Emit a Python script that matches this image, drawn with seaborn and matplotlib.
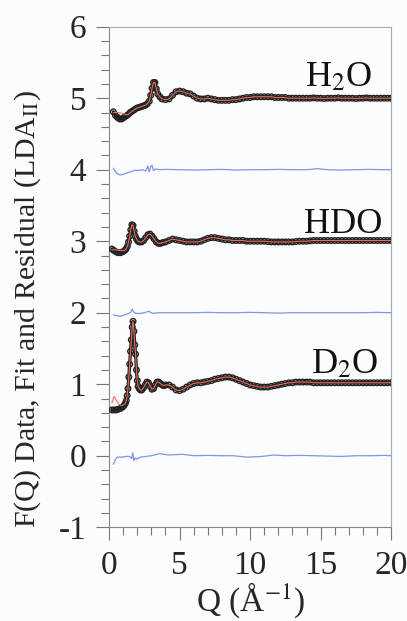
import numpy as np
import pandas as pd
import matplotlib
matplotlib.use("Agg")
import matplotlib.pyplot as plt
import seaborn as sns
from matplotlib.ticker import MultipleLocator

# ---- data ----
# common high-Q sampling shared by the three data sets
q_tail = [4.0, 4.25, 4.5, 4.75, 5.0, 5.25, 5.5, 5.75, 6.0, 6.25,
          6.5, 6.75, 7.0, 7.25, 7.5, 7.75, 8.0, 8.25, 8.5, 8.75,
          9.0, 9.25, 9.5, 9.75, 10.0, 10.25, 10.5, 10.75, 11.0, 11.25,
          11.5, 11.75, 12.0, 12.25, 12.5, 12.75, 13.0, 13.25, 13.5, 13.75,
          14.0, 14.25, 14.5, 14.75, 15.0, 15.25, 15.5, 15.75, 16.0, 16.25,
          16.5, 16.75, 17.0, 17.25, 17.5, 17.75, 18.0, 18.25, 18.5, 18.75,
          19.0, 19.25, 19.5, 19.75, 20.0]

# H2O
q_h2o_head = [0.3, 0.45, 0.6, 0.75, 0.9, 1.05, 1.2, 1.35, 1.5, 1.65,
              1.8, 1.95, 2.1, 2.25, 2.4, 2.55, 2.7, 2.85, 2.95, 3.05,
              3.15, 3.25, 3.35, 3.45, 3.6, 3.75]
f_h2o_head = [4.81, 4.76, 4.73, 4.71, 4.71, 4.73, 4.75, 4.77, 4.80, 4.82,
              4.84, 4.86, 4.87, 4.88, 4.89, 4.90, 4.92, 4.96, 5.04, 5.14,
              5.22, 5.22, 5.13, 5.06, 5.02, 4.99]
f_h2o_tail = [4.98, 4.99, 5.04, 5.09, 5.10, 5.09, 5.07, 5.06, 5.03, 5.00,
              4.99, 4.99, 5.00, 4.99, 4.98, 4.97, 4.97, 4.97, 4.97, 4.98,
              4.98, 4.99, 5.00, 5.01, 5.01, 5.02, 5.02, 5.02, 5.02, 5.02,
              5.02, 5.01, 5.01, 5.01, 5.01, 5.00, 5.00, 5.00, 5.00, 5.00,
              5.00, 5.00, 5.005, 5.00, 5.00, 4.995, 5.00, 5.00, 5.00, 5.005,
              5.00, 5.00, 5.00, 5.00, 4.995, 5.00, 5.00, 5.005, 5.00, 5.00,
              5.00, 5.00, 5.00, 5.00, 5.00]
fit_q_h2o_low = [0.3, 0.6, 0.9, 1.2]
fit_h2o_low = [4.80, 4.80, 4.79, 4.77]
res_q_h2o = [0.3, 0.5, 0.7, 0.9, 1.2, 1.5, 1.8, 2.1, 2.4, 2.6,
             2.75, 2.85, 2.95, 3.05, 3.15, 3.3, 3.6, 4.0, 5.0, 6.0,
             7.0, 8.0, 9.0, 10.0, 11.0, 12.0, 13.0, 14.0, 14.8, 15.5,
             16.5, 17.5, 18.5, 19.5, 20.0]
res_h2o = [4.02, 3.96, 3.93, 3.93, 3.95, 3.97, 3.99, 3.99, 4.00, 3.98,
           4.05, 3.97, 4.04, 4.06, 3.99, 4.01, 4.00, 4.005, 4.00, 3.995,
           4.00, 4.005, 3.995, 4.00, 4.00, 4.005, 4.00, 4.00, 4.015, 4.00,
           3.995, 4.00, 4.005, 4.00, 4.00]

# HDO
q_hdo_head = [0.2, 0.35, 0.5, 0.65, 0.8, 0.95, 1.1, 1.2, 1.3, 1.38,
              1.46, 1.54, 1.62, 1.7, 1.78, 1.86, 1.95, 2.05, 2.15, 2.3,
              2.45, 2.6, 2.75, 2.9, 3.05, 3.2, 3.35, 3.5, 3.65, 3.8]
f_hdo_head = [2.89, 2.87, 2.85, 2.84, 2.84, 2.85, 2.87, 2.89, 2.93, 2.99,
              3.07, 3.16, 3.23, 3.22, 3.14, 3.07, 3.03, 3.00, 2.99, 2.99,
              3.01, 3.05, 3.09, 3.10, 3.07, 3.03, 2.99, 2.97, 2.97, 2.98]
f_hdo_tail = [2.99, 3.01, 3.03, 3.02, 3.01, 3.00, 2.99, 2.99, 2.99, 2.99,
              3.00, 3.02, 3.04, 3.05, 3.05, 3.04, 3.03, 3.02, 3.02, 3.01,
              3.01, 3.01, 3.01, 3.00, 3.00, 3.00, 3.00, 3.00, 3.00, 2.995,
              2.99, 2.99, 2.99, 2.99, 2.99, 2.99, 2.99, 2.995, 3.00, 3.00,
              3.00, 3.005, 3.01, 3.01, 3.01, 3.01, 3.01, 3.01, 3.01, 3.01,
              3.01, 3.01, 3.01, 3.01, 3.01, 3.01, 3.01, 3.01, 3.01, 3.01,
              3.01, 3.01, 3.01, 3.01, 3.01]
fit_q_hdo_low = [0.2, 0.5, 0.8, 1.1]
fit_hdo_low = [2.88, 2.88, 2.87, 2.87]
res_q_hdo = [0.3, 0.5, 0.8, 1.1, 1.4, 1.55, 1.65, 1.75, 1.9, 2.2,
             2.5, 2.8, 3.1, 3.5, 4.0, 5.0, 6.0, 7.0, 8.0, 9.0,
             10.0, 11.0, 12.0, 13.0, 14.0, 15.0, 16.0, 17.0, 18.0, 19.0, 20.0]
res_hdo = [1.97, 1.96, 1.95, 1.97, 1.99, 2.01, 2.05, 2.01, 1.99, 1.99,
           2.00, 2.02, 1.99, 2.00, 2.00, 2.00, 2.00, 2.005, 2.00, 2.00,
           2.005, 2.00, 1.995, 2.00, 2.00, 2.00, 2.00, 2.00, 2.00, 2.005, 2.00]

# D2O
q_d2o_head = [0.2, 0.35, 0.5, 0.65, 0.8, 0.95, 1.05, 1.15, 1.22, 1.28,
              1.34, 1.4, 1.46, 1.52, 1.58, 1.64, 1.7, 1.76, 1.82, 1.88,
              1.94, 2.0, 2.06, 2.14, 2.22, 2.32, 2.44, 2.56, 2.68, 2.8,
              2.92, 3.04, 3.16, 3.28, 3.4, 3.52, 3.64, 3.76, 3.88]
f_d2o_head = [0.64, 0.64, 0.64, 0.65, 0.66, 0.68, 0.70, 0.73, 0.77, 0.84,
              0.94, 1.10, 1.28, 1.46, 1.62, 1.80, 1.88, 1.74, 1.55, 1.42,
              1.20, 1.05, 0.97, 0.94, 0.92, 0.92, 0.95, 0.99, 1.03, 1.02,
              0.97, 0.93, 0.94, 0.99, 1.03, 1.03, 1.01, 0.99, 0.98]
f_d2o_tail = [0.99, 0.99, 0.96, 0.92, 0.91, 0.93, 0.96, 0.99, 1.01, 1.02,
              1.02, 1.03, 1.04, 1.05, 1.07, 1.08, 1.09, 1.10, 1.10, 1.09,
              1.07, 1.05, 1.03, 1.01, 0.99, 0.98, 0.97, 0.96, 0.96, 0.96,
              0.97, 0.98, 0.99, 1.00, 1.01, 1.02, 1.02, 1.03, 1.03, 1.03,
              1.03, 1.03, 1.02, 1.02, 1.02, 1.02, 1.02, 1.02, 1.02, 1.02,
              1.02, 1.02, 1.02, 1.02, 1.02, 1.02, 1.02, 1.02, 1.02, 1.02,
              1.02, 1.02, 1.02, 1.02, 1.02]
fit_q_d2o_low = [0.2, 0.35, 0.5, 0.7, 0.9, 1.1]
fit_d2o_low = [0.74, 0.83, 0.78, 0.72, 0.70, 0.72]
res_q_d2o = [0.3, 0.45, 0.6, 0.9, 1.2, 1.45, 1.6, 1.68, 1.76, 1.84,
             1.95, 2.2, 2.6, 3.0, 3.6, 4.2, 5.2, 6.0, 7.0, 8.0,
             8.8, 9.8, 10.8, 11.7, 12.5, 13.5, 14.5, 15.5, 16.5, 17.5,
             18.5, 19.5, 20.0]
res_d2o = [-0.12, -0.05, -0.02, -0.02, -0.01, -0.01, -0.04, 0.04, -0.07, -0.03,
           -0.05, -0.02, -0.01, 0.00, 0.03, 0.01, 0.02, 0.00, 0.005, 0.00,
           0.00, -0.02, -0.01, 0.01, 0.00, 0.005, 0.00, -0.005, -0.01, 0.00,
           0.00, 0.005, 0.00]

samples = ["H$_2$O", "HDO", "D$_2$O"]
label_pos = [(18.7, 5.29), (19.4, 3.24), (19.1, 1.27)]


def build_fit(q, f, q_low, f_low):
    """fit curve = low-Q fit values, then the data where they overlap"""
    keep = [(a, b) for a, b in zip(q, f) if a > q_low[-1]]
    fq = list(q_low) + [a for a, _ in keep]
    ff = list(f_low) + [b for _, b in keep]
    return pd.DataFrame({"Q": fq, "F": ff})


def make_set(q_head, f_head, f_tail, q_low, f_low, res_q, res_f):
    q = list(q_head) + q_tail
    f = list(f_head) + list(f_tail)
    data = pd.DataFrame({"Q": q, "F": f})
    fit = build_fit(q, f, q_low, f_low)
    res = pd.DataFrame({"Q": res_q, "F": res_f})
    return data, fit, res


data_sets = [
    make_set(q_h2o_head, f_h2o_head, f_h2o_tail, fit_q_h2o_low, fit_h2o_low,
             res_q_h2o, res_h2o),
    make_set(q_hdo_head, f_hdo_head, f_hdo_tail, fit_q_hdo_low, fit_hdo_low,
             res_q_hdo, res_hdo),
    make_set(q_d2o_head, f_d2o_head, f_d2o_tail, fit_q_d2o_low, fit_d2o_low,
             res_q_d2o, res_d2o),
]

sns.set_style("ticks")
plt.rcParams["font.family"] = "serif"
plt.rcParams["font.serif"] = ["Liberation Serif", "STIXGeneral", "DejaVu Serif"]
plt.rcParams["mathtext.fontset"] = "stix"

bg = "#fbfcfe"
fig = plt.figure(figsize=(4.07, 6.21), dpi=100, facecolor=bg)
ax = fig.add_axes([0.268, 0.151, 0.693, 0.806])
ax.set_facecolor(bg)

for (data, fit, res), name, (tx, ty) in zip(data_sets, samples, label_pos):
    # residual
    sns.lineplot(data=res, x="Q", y="F", ax=ax, color="#7f95e6", lw=0.9,
                 sort=False, estimator=None)
    # data: dark trace plus open circles
    sns.lineplot(data=data, x="Q", y="F", ax=ax, color="#222222", lw=2.4,
                 sort=False, estimator=None)
    sns.scatterplot(data=data, x="Q", y="F", ax=ax, s=16, marker="o",
                    facecolor="none", edgecolor="#222222", linewidth=1.0,
                    zorder=3)
    # fit
    sns.lineplot(data=fit, x="Q", y="F", ax=ax, color="#e8705a", lw=0.8,
                 sort=False, estimator=None, zorder=4)
    ax.text(tx, ty, name, ha="right", va="center", fontsize=26, color="#111")

ax.set_xlim(0, 20)
ax.set_ylim(-1, 6)
ax.xaxis.set_major_locator(MultipleLocator(5))
ax.xaxis.set_minor_locator(MultipleLocator(1))
ax.yaxis.set_major_locator(MultipleLocator(1))
ax.yaxis.set_minor_locator(MultipleLocator(0.2))
ax.set_yticklabels([f"{v:g}" for v in ax.get_yticks()])

ax.tick_params(which="major", length=9.5, width=0.8, color="#777777",
               labelsize=24, pad=7, direction="out")
ax.tick_params(which="minor", length=5.5, width=0.8, color="#777777",
               direction="out")
for side in ["top", "right", "left", "bottom"]:
    ax.spines[side].set_visible(True)
    ax.spines[side].set_color("#aaaaaa")
    ax.spines[side].set_linewidth(0.8)
ax.spines["left"].set_color("#888888")
ax.spines["bottom"].set_color("#888888")

ax.set_xlabel("Q (Å$^{-1}$)", fontsize=24, labelpad=0)
ax.set_ylabel("F(Q) Data, Fit and Residual (LDA$_{\\mathrm{II}}$)", fontsize=21.5)
ax.yaxis.set_label_coords(-0.235, 0.435)

fig.savefig("out.png", dpi=100, facecolor=bg)
